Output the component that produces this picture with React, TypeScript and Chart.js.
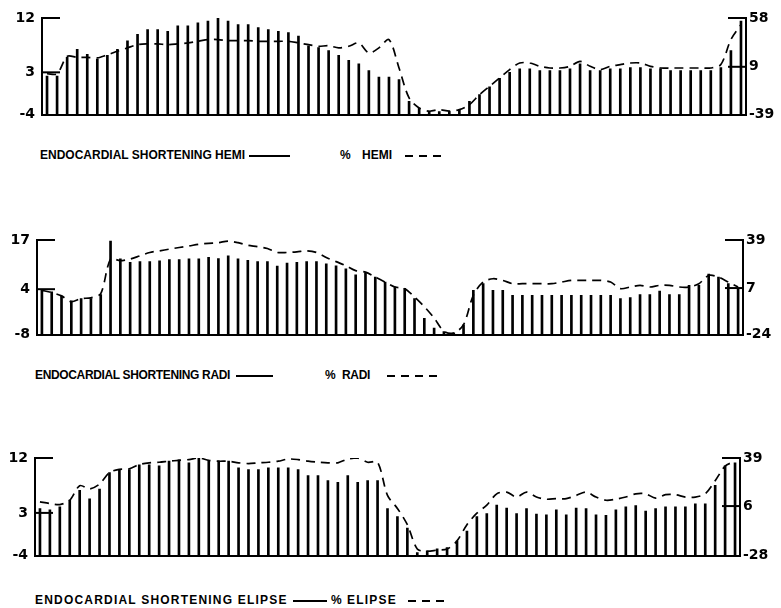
import React, { useEffect, useRef } from "react";
import { Chart, registerables } from "chart.js";
Chart.register(...registerables);

// ---------- DATA ----------
const hemiShortening = [
  2.4, 2.4, 5.5, 6.8, 6.0, 5.2, 5.8, 6.8, 8.2, 9.3,
  10.1, 10.1, 9.8, 10.7, 10.7, 11.2, 11.5, 12.0, 11.5, 10.9,
  10.9, 10.4, 10.1, 9.8, 9.6, 9.0, 7.4, 7.1, 6.6, 5.8,
  5.0, 4.4, 3.3, 2.2, 2.2, 1.8, -1.8, -2.9, -3.5, -3.5,
  -3.5, -3.2, -1.8, -0.7, 0.6, 2.0, 3.0, 3.6, 3.6, 3.3,
  3.3, 3.3, 3.6, 4.4, 3.3, 3.3, 3.6, 3.6, 3.8, 3.8,
  3.6, 3.6, 3.3, 3.3, 3.3, 3.3, 3.3, 3.8, 6.6, 11.5,
];
const hemiPercent = [
  2, 2, 19.5, 18.5, 18.5, 17.9, 21, 24.6, 28, 31.2,
  32, 32, 31.2, 32, 33, 34.6, 36.3, 36.3, 35.3, 35.3,
  35.3, 34.6, 34.6, 34.6, 34.6, 33, 31.2, 29.6, 30.2, 28,
  29.6, 33, 22.9, 28, 36.3, 7.8, -22.3, -32.3, -35.6, -34,
  -35.6, -34, -29, -19, -10.6, -2.2, 6.2, 12.8, 12.8, 9.5,
  7.8, 7.8, 9.5, 14.5, 9.5, 6.2, 9.5, 11.2, 12.8, 12.8,
  9.5, 7.8, 7.8, 7.8, 7.8, 7.8, 7.8, 11.2, 36.3, 51.3,
];
const hemiLeftTicks = [-4, 3, 12];
const hemiRightTicks = [-39, 9, 58];

const radiShortening = [
  3.7, 3.3, 2.2, 0.9, 1.5, 1.5, 2.6, 16.7, 12, 11.1,
  11.3, 11.3, 11.5, 11.8, 11.8, 12, 12, 12.4, 12.1, 12.8,
  12, 11.6, 11.3, 11.3, 10.1, 10.9, 11.1, 11.3, 11.3, 10.7,
  10.2, 9.4, 7.8, 8.3, 7.2, 5.9, 4.6, 4.2, 1.5, -3.7,
  -6.3, -7.2, -7.5, -5.4, 3.7, 5.5, 3.7, 3.7, 2.4, 2.4,
  2.4, 2.4, 2.4, 2.4, 2.4, 2.4, 2.4, 2.4, 2.4, 1.5,
  1.8, 2.6, 2.6, 3.5, 2.6, 2.6, 5.0, 5.0, 8.0, 7.2,
  5.5, 4.2,
];
const radiPercent = [
  5.5, 4, 1.8, -2.1, 0, 0.5, 3.3, 26.3, 25.2, 26.3,
  28.5, 30.7, 31.8, 32.9, 34, 35, 36.2, 36.8, 37.2, 38.3,
  37.2, 35.5, 34.6, 33.3, 30.7, 30.7, 31.1, 31.8, 30.7, 27.4,
  24.6, 21.9, 18.6, 17.6, 14.3, 11, 7.7, 6.6, 1.1, -5.4,
  -13, -21.8, -22.9, -17.4, 2.2, 11, 13.2, 12.1, 9.9, 9.9,
  9.9, 9.9, 9.9, 11, 12.1, 12.1, 12.1, 12.1, 11, 6.6,
  7.7, 8.8, 7.7, 8.8, 8.8, 7.7, 7.7, 9.9, 15.4, 14.3,
  11, 7.7,
];
const radiLeftTicks = [-8, 4, 17];
const radiRightTicks = [-24, 7, 39];

const elipseShortening = [
  3.7, 3.5, 4.0, 5.1, 6.7, 5.3, 6.9, 9.6, 10.1, 10.1,
  10.9, 10.9, 10.7, 11.5, 11.7, 11.2, 12.0, 11.5, 11.5, 11.5,
  10.4, 10.1, 10.1, 10.4, 10.4, 10.4, 10.1, 9.1, 9.1, 8.3,
  8.0, 9.1, 8.0, 8.3, 8.3, 3.7, 2.4, 0.5, -3.5, -3.2,
  -2.9, -2.7, -1.6, 0, 2.4, 2.9, 4.3, 3.8, 2.9, 3.7,
  2.8, 2.7, 3.5, 2.7, 3.8, 3.7, 2.7, 2.6, 3.5, 4.0,
  4.2, 3.3, 3.7, 4.0, 4.0, 4.0, 4.5, 4.5, 7.5, 10.7,
  11.2,
];
const elipsePercent = [
  8.9, 7.8, 7, 10, 20, 17.8, 21.1, 29, 31.2, 31.6,
  34.5, 35.7, 36.1, 36.8, 37.4, 37.9, 39, 37.4, 36.8, 36.8,
  35.7, 35.2, 35.7, 36.1, 36.8, 38.3, 37.9, 36.8, 36.1, 35.7,
  35.7, 38.3, 39, 36.1, 36.1, 13.3, 4.4, -6.8, -23.5, -25,
  -24.2, -23.5, -17.9, -6.8, 1.1, 6.6, 14.4, 15.6, 12.2, 15.6,
  12.2, 10.7, 11.1, 11.1, 13.3, 15.6, 12.2, 10, 10.7, 12.2,
  14.4, 14.4, 11.5, 13.8, 13.8, 12.2, 12.2, 14.4, 23.4, 33.4,
  36.8,
];
const elipseLeftTicks = [-4, 3, 12];
const elipseRightTicks = [-28, 6, 39];

// ---------- PLUGIN: inward tick marks ----------
const innerTicks = {
  id: "innerTicks",
  afterDatasetsDraw(chart: any) {
    const ctx = chart.ctx;
    const { left, right } = chart.chartArea;
    ctx.save();
    ctx.strokeStyle = "#000";
    ctx.lineWidth = 2;
    ["y", "y1"].forEach((id) => {
      const s = chart.scales[id];
      s.ticks.forEach((t: any, k: number) => {
        if (k === 0) return;
        const py = s.getPixelForValue(t.value);
        ctx.beginPath();
        if (id === "y") {
          ctx.moveTo(left - 1, py);
          ctx.lineTo(left + 18, py);
        } else {
          ctx.moveTo(right - 18, py);
          ctx.lineTo(right + 1, py);
        }
        ctx.stroke();
      });
    });
    ctx.restore();
  },
};

const tickFont = { family: "'DejaVu Sans', sans-serif", size: 14, weight: "bold" as const };

type PanelProps = {
  top: number;
  height: number;
  leftW: number;
  rightW: number;
  shortening: number[];
  percent: number[];
  leftTicks: number[];
  rightTicks: number[];
};

function Panel({ top, height, leftW, rightW, shortening, percent, leftTicks, rightTicks }: PanelProps) {
  const ref = useRef<HTMLCanvasElement | null>(null);
  useEffect(() => {
    if (!ref.current) return;
    const labels = shortening.map((_, i) => String(i + 1));
    const chart = new Chart(ref.current, {
      type: "bar",
      data: {
        labels,
        datasets: [
          {
            type: "line",
            data: percent,
            yAxisID: "y1",
            borderColor: "#000",
            borderWidth: 1.7,
            borderDash: [9, 6],
            pointRadius: 0,
            tension: 0.3,
            fill: false,
            order: 0,
          } as any,
          {
            type: "bar",
            data: shortening,
            yAxisID: "y",
            backgroundColor: "#000",
            barThickness: 2,
            base: leftTicks[0],
            order: 1,
          } as any,
        ],
      },
      options: {
        responsive: false,
        animation: false,
        events: [],
        layout: { padding: { top: 18, bottom: 13, left: 0, right: 0 } },
        plugins: {
          legend: { display: false },
          tooltip: { enabled: false },
          title: { display: false },
        },
        scales: {
          x: {
            type: "category",
            offset: true,
            ticks: { display: false },
            grid: { display: false, drawTicks: false },
            border: { display: true, color: "#000", width: 2 },
            afterFit: (s: any) => {
              s.height = 0;
            },
          },
          y: {
            type: "linear",
            position: "left",
            min: leftTicks[0],
            max: leftTicks[2],
            afterBuildTicks: (s: any) => {
              s.ticks = leftTicks.map((v) => ({ value: v }));
            },
            ticks: { font: tickFont, color: "#000", padding: 7 },
            grid: { display: false, drawTicks: false },
            border: { display: true, color: "#000", width: 2 },
            afterFit: (s: any) => {
              s.width = leftW;
            },
          },
          y1: {
            type: "linear",
            position: "right",
            min: rightTicks[0],
            max: rightTicks[2],
            afterBuildTicks: (s: any) => {
              s.ticks = rightTicks.map((v) => ({ value: v }));
            },
            ticks: { font: tickFont, color: "#000", padding: 3 },
            grid: { display: false, drawTicks: false },
            border: { display: true, color: "#000", width: 2 },
            afterFit: (s: any) => {
              s.width = rightW;
            },
          },
        },
      } as any,
      plugins: [innerTicks],
    });
    return () => chart.destroy();
  }, []);
  return (
    <canvas
      ref={ref}
      width={781}
      height={height}
      style={{ position: "absolute", left: 0, top, display: "block" }}
    />
  );
}

type LegendProps = {
  top: number;
  text: string;
  name: string;
  textX: number;
  spacing: number;
  line: [number, number];
  pctX: number;
  nameX: number;
  dash: [number, number];
};

const legendFont: React.CSSProperties = {
  position: "absolute",
  fontFamily: "'Liberation Sans', Arial, sans-serif",
  fontWeight: "bold",
  fontSize: 12,
  lineHeight: "14px",
  color: "#000",
  whiteSpace: "pre",
};

function LegendRow({ top, text, name, textX, spacing, line, pctX, nameX, dash }: LegendProps) {
  return (
    <>
      <span style={{ ...legendFont, left: textX, top, letterSpacing: spacing }}>{text}</span>
      <span
        style={{
          position: "absolute",
          left: line[0],
          top: top + 7,
          width: line[1] - line[0],
          height: 2,
          background: "#000",
        }}
      />
      <span style={{ ...legendFont, left: pctX, top }}>%</span>
      <span style={{ ...legendFont, left: nameX, top, letterSpacing: spacing }}>{name}</span>
      <span
        style={{
          position: "absolute",
          left: dash[0],
          top: top + 7,
          width: dash[1] - dash[0],
          height: 2,
          background: "repeating-linear-gradient(to right, #000 0px, #000 8px, transparent 8px, transparent 14px)",
        }}
      />
    </>
  );
}

export default function App() {
  return (
    <div style={{ position: "absolute", left: 0, top: 0, width: 781, height: 608, background: "#fff" }}>
      <Panel
        top={0}
        height={130}
        leftW={42}
        rightW={35}
        shortening={hemiShortening}
        percent={hemiPercent}
        leftTicks={hemiLeftTicks}
        rightTicks={hemiRightTicks}
      />
      <LegendRow
        top={148}
        text="ENDOCARDIAL SHORTENING HEMI"
        name="HEMI"
        textX={40}
        spacing={0}
        line={[249, 290]}
        pctX={340}
        nameX={362}
        dash={[405, 442]}
      />
      <Panel
        top={222}
        height={128}
        leftW={37}
        rightW={38}
        shortening={radiShortening}
        percent={radiPercent}
        leftTicks={radiLeftTicks}
        rightTicks={radiRightTicks}
      />
      <LegendRow
        top={368}
        text="ENDOCARDIAL SHORTENING RADI"
        name="RADI"
        textX={35}
        spacing={-0.35}
        line={[236, 273]}
        pctX={325}
        nameX={342}
        dash={[387, 442]}
      />
      <Panel
        top={440}
        height={131}
        leftW={35}
        rightW={41}
        shortening={elipseShortening}
        percent={elipsePercent}
        leftTicks={elipseLeftTicks}
        rightTicks={elipseRightTicks}
      />
      <LegendRow
        top={593}
        text="ENDOCARDIAL SHORTENING ELIPSE"
        name="ELIPSE"
        textX={35}
        spacing={1.2}
        line={[293, 327]}
        pctX={331}
        nameX={347}
        dash={[408, 447]}
      />
    </div>
  );
}
